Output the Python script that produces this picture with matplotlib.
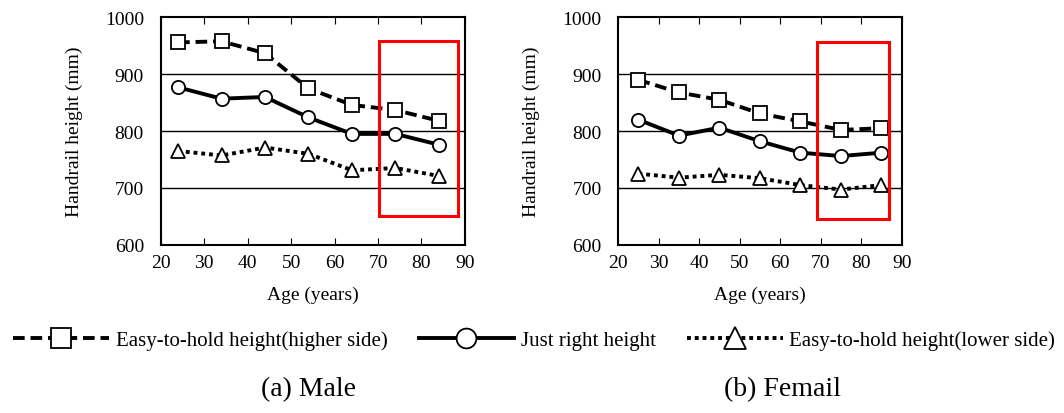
import matplotlib
matplotlib.use("Agg")
import matplotlib.pyplot as plt
from matplotlib.patches import Rectangle

plt.rcParams['font.family'] = ['Liberation Serif', 'DejaVu Serif']

male_age = [24, 34, 44, 54, 64, 74, 84]
male_high = [956, 958, 937, 875, 846, 837, 818]
male_just = [877, 857, 860, 824, 795, 795, 776]
male_low = [765, 757, 771, 760, 731, 735, 721]

female_age = [25, 35, 45, 55, 65, 75, 85]
female_high = [890, 868, 855, 831, 817, 802, 805]
female_just = [820, 792, 806, 782, 762, 756, 762]
female_low = [725, 718, 723, 717, 705, 697, 705]

labels = ['Easy-to-hold height(higher side)', 'Just right height',
          'Easy-to-hold height(lower side)']
captions = ['(a) Male', '(b) Femail']
boxes = [(70.3, 650, 18.0, 308), (69.1, 645, 17.8, 312)]

fig = plt.figure(figsize=(10.64, 4.14), dpi=100)
ax1 = fig.add_axes([0.151, 0.4065, 0.286, 0.549])
ax2 = fig.add_axes([0.581, 0.4065, 0.2664, 0.549])

data = [(ax1, male_age, male_high, male_just, male_low),
        (ax2, female_age, female_high, female_just, female_low)]

handles = []
for ax, age, hi, ju, lo in data:
    h1, = ax.plot(age, hi, color='black', lw=2.8, ls=(0, (3, 1.5)), marker='s', ms=9.5,
                  mfc='white', mec='black', mew=1.3, zorder=3)
    h2, = ax.plot(age, ju, color='black', lw=2.8, ls='-', marker='o', ms=9.5,
                  mfc='white', mec='black', mew=1.3, zorder=3)
    h3, = ax.plot(age, lo, color='black', lw=2.8, ls=(0, (1, 1)), marker='^', ms=10.5,
                  mfc='white', mec='black', mew=1.3, zorder=3)
    handles = [h1, h2, h3]
    ax.set_xlim(20, 90)
    ax.set_ylim(600, 1000)
    ax.set_xticks(range(20, 91, 10))
    ax.set_yticks(range(600, 1001, 100))
    for y in (700, 800, 900):
        ax.axhline(y, color='black', lw=1.0, zorder=1)
    ax.tick_params(axis='x', direction='in', top=True, length=5, labelsize=14, pad=7)
    ax.tick_params(axis='y', length=0, labelsize=14, pad=12)
    for s in ax.spines.values():
        s.set_linewidth(1.5)
    ax.set_xlabel('Age (years)', fontsize=14, labelpad=10)
    ax.set_ylabel('Handrail height (mm)', fontsize=14, labelpad=16)

for ax, (x0, y0, w, h) in zip([ax1, ax2], boxes):
    ax.add_patch(Rectangle((x0, y0), w, h, fill=False, edgecolor='red', lw=2.2,
                           zorder=4, clip_on=False))

leg = fig.legend(handles, labels, loc='center', bbox_to_anchor=(0.502, 0.176), ncol=3,
                 frameon=False, fontsize=15, handlelength=4.6, markerscale=1.5,
                 columnspacing=1.5, handletextpad=0.3)

fig.text(0.29, 0.058, captions[0], ha='center', va='center', fontsize=20)
fig.text(0.735, 0.058, captions[1], ha='center', va='center', fontsize=20)

fig.savefig('out.png', dpi=100)
